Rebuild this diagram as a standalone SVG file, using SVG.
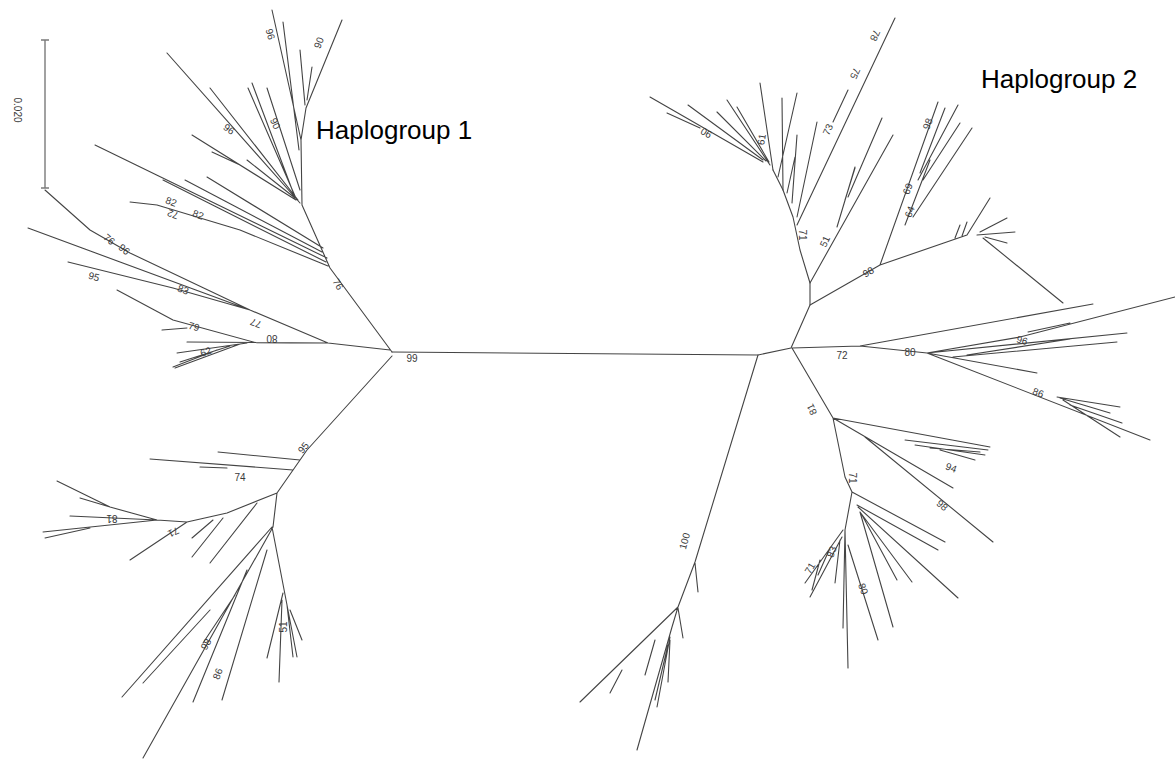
<svg xmlns="http://www.w3.org/2000/svg" width="1175" height="762" viewBox="0 0 1175 762">
<style>
.br{fill:none;stroke:#444;stroke-width:1.1;stroke-linecap:round;stroke-linejoin:round}
.bs{fill:none;stroke:#7a7a7a;stroke-width:1.4}
.bl{font-family:"Liberation Sans",Arial,sans-serif;font-size:10px;fill:#3a3a3a;text-anchor:middle}
.hg{font-family:"Liberation Sans",Arial,sans-serif;font-size:26px;fill:#000}
</style>
<rect width="1175" height="762" fill="#fff"/>
<g id="scale-bar">
<path class="bs" d="M45 40 L45 188 M41 40 L49 40 M41 188 L49 188"/>
<text class="bl" transform="translate(14 110) rotate(90)">0.020</text>
</g>
<g id="connectors">
<path class="br" d="M392 352 L758 355 M758 355 L791 348 L810 305 L810 283 L800 250 L793 217 L783 190 L773 170"/>
</g>
<g id="haplogroup1-tree">
<path class="br" d="M392 352 L330 268 L302 205 L301 140 L306 108 L342 20 M301 140 L272 10 M299 150 L283 22 M300 50 L305 105 M312 67 L307 100
M300 203 L167 53 M298 200 L210 88 M296 200 L192 135 M212 152 L240 165 M295 198 L247 160 M295 196 L248 88 M293 192 L252 83 M300 190 L267 88
M327 258 L95 145 M326 262 L163 180 M322 252 L185 180 M323 248 L207 177 M328 266 L240 230 L157 205 L130 202
M390 350 L328 343 L250 310 L130 253 L90 230 L45 190 M250 310 L28 228 M250 310 L173 288 L68 262
M328 343 L257 343 L173 320 L117 290 M162 330 L187 328 M328 343 L187 342 M247 343 L177 353 M240 344 L175 368 M217 350 L173 367 M230 346 L180 362
M392 356 L307 450 L277 493 L273 527 L143 758 M300 460 L218 452 M293 470 L150 459 M200 467 L227 468
M277 493 L227 513 L187 522 L157 520 L110 507 L57 481 M110 507 L80 498 M157 520 L70 516 M157 520 L43 532 M90 528 L45 538
M187 522 L130 560 M213 520 L192 538 M223 518 L192 557 M257 503 L210 563
M272 527 L122 697 M210 610 L143 683 M247 570 L193 702 M235 595 L203 643 M267 550 L222 700
M272 527 L297 657 M283 593 L267 658 M282 600 L279 682 M287 605 L293 657 M290 610 L302 640"/>
</g>
<g id="haplogroup2-tree">
<path class="br" d="M797 225 L895 18 M848 90 L833 122 M810 283 L893 135 M848 197 L882 118 M845 200 L855 168 M837 227 L855 167
M797 217 L817 122 M792 203 L797 135 M787 193 L795 157 M783 190 L782 98 M778 177 L797 93
M773 170 L760 83 M770 165 L727 100 M769 162 L737 107 M766 161 L717 112 M763 160 L688 105 M763 162 L650 97 M667 113 L700 128
M810 305 L880 265 L938 102 M920 173 L945 108 M918 180 L958 105 M923 180 L960 123 M913 217 L972 128 M905 225 L930 160
M880 265 L967 235 L990 198 M977 235 L1015 232 M980 232 L1007 218 M985 237 L1007 243 M983 238 L1063 303 M955 238 L960 225 M962 236 L967 222
M792 348 L860 346 L1093 304 M860 346 L927 353 L1020 337 L1175 297 M927 353 L1127 333 M953 357 L1117 342 M967 355 L1070 339 M1028 332 L1070 323
M927 353 L1037 373 M927 353 L1150 440 M1057 397 L1120 407 M1063 400 L1120 437 M1070 405 L1122 423 M1060 398 L1110 413
M792 348 L833 418 L990 447 M833 418 L953 488 M865 437 L993 542 M905 440 L988 450 M915 445 L985 455 M930 448 L980 452 M940 450 L975 460
M833 418 L845 477 L852 492 L945 542 M857 505 L938 550 M858 507 L958 598 M860 512 L912 582 M862 515 L897 580 M860 512 L893 627
M852 492 L845 530 L848 668 M845 530 L843 628 M848 545 L878 640 M843 530 L805 583 M842 537 L810 597 M840 540 L835 583 M820 560 L812 590 M830 548 L818 575
M758 355 L695 562 L678 607 L580 702 M678 607 L672 627 L637 750 M695 563 L698 592 M678 608 L683 638 M655 640 L645 675 M622 670 L610 693 M670 637 L657 707 M670 640 L668 682 M668 645 L655 700"/>
</g>
<g id="bootstrap-labels">
<text class="bl" transform="translate(267 35) rotate(75)">96</text>
<text class="bl" transform="translate(322 44) rotate(-68)">90</text>
<text class="bl" transform="translate(272 125) rotate(65)">90</text>
<text class="bl" transform="translate(227 132) rotate(35)">96</text>
<text class="bl" transform="translate(170 205) rotate(20)">82</text>
<text class="bl" transform="translate(174 211) rotate(200)">72</text>
<text class="bl" transform="translate(197 218) rotate(20)">82</text>
<text class="bl" transform="translate(107 242) rotate(40)">76</text>
<text class="bl" transform="translate(122 252) rotate(40)">96</text>
<text class="bl" transform="translate(93 280) rotate(15)">95</text>
<text class="bl" transform="translate(182 293) rotate(20)">83</text>
<text class="bl" transform="translate(193 330) rotate(15)">79</text>
<text class="bl" transform="translate(257 320) rotate(200)">77</text>
<text class="bl" transform="translate(272 335) rotate(180)">80</text>
<text class="bl" transform="translate(207 355) rotate(-20)">62</text>
<text class="bl" transform="translate(335 286) rotate(60)">76</text>
<text class="bl" x="412" y="362">99</text>
<text class="bl" transform="translate(306 450) rotate(-50)">95</text>
<text class="bl" x="240" y="481">74</text>
<text class="bl" transform="translate(112 515) rotate(180)">81</text>
<text class="bl" transform="translate(172 529) rotate(155)">71</text>
<text class="bl" transform="translate(209 646) rotate(-60)">98</text>
<text class="bl" transform="translate(221 675) rotate(-70)">86</text>
<text class="bl" transform="translate(287 627) rotate(-90)">51</text>
<text class="bl" transform="translate(708 130) rotate(210)">90</text>
<text class="bl" transform="translate(765 140) rotate(-80)">61</text>
<text class="bl" transform="translate(831 131) rotate(-65)">73</text>
<text class="bl" transform="translate(852 72) rotate(115)">75</text>
<text class="bl" transform="translate(872 34) rotate(115)">78</text>
<text class="bl" transform="translate(799 235) rotate(90)">71</text>
<text class="bl" transform="translate(828 243) rotate(-65)">51</text>
<text class="bl" transform="translate(870 275) rotate(-30)">98</text>
<text class="bl" transform="translate(931 125) rotate(-70)">98</text>
<text class="bl" transform="translate(911 190) rotate(-70)">69</text>
<text class="bl" transform="translate(913 213) rotate(-70)">64</text>
<text class="bl" x="842" y="359">72</text>
<text class="bl" x="910" y="356">80</text>
<text class="bl" transform="translate(1023 337) rotate(195)">96</text>
<text class="bl" transform="translate(1037 396) rotate(20)">86</text>
<text class="bl" transform="translate(815 408) rotate(-115)">81</text>
<text class="bl" transform="translate(950 471) rotate(20)">94</text>
<text class="bl" transform="translate(940 508) rotate(40)">98</text>
<text class="bl" transform="translate(849 478) rotate(90)">71</text>
<text class="bl" transform="translate(835 553) rotate(-70)">83</text>
<text class="bl" transform="translate(813 570) rotate(-60)">71</text>
<text class="bl" transform="translate(860 590) rotate(70)">80</text>
<text class="bl" transform="translate(688 542) rotate(-75)">100</text>
</g>
<g id="group-titles">
<text class="hg" x="316" y="139">Haplogroup 1</text>
<text class="hg" x="981" y="88">Haplogroup 2</text>
</g>
</svg>
